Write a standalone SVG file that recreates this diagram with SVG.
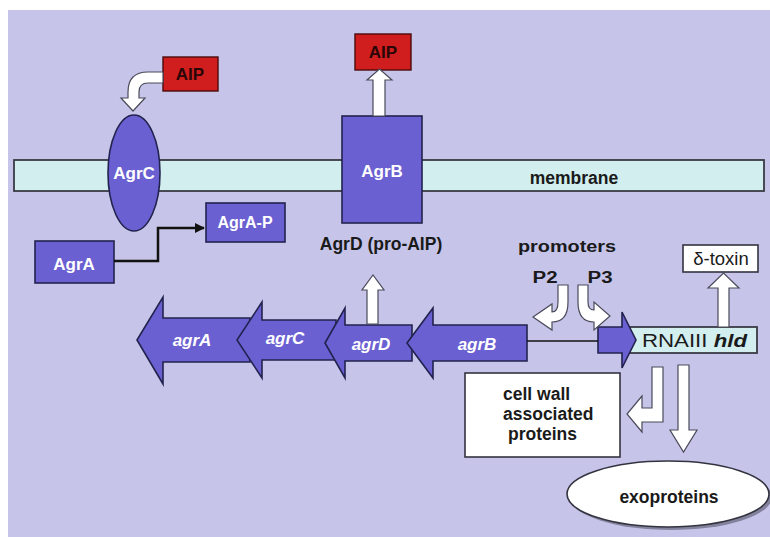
<svg xmlns="http://www.w3.org/2000/svg" width="770" height="537" viewBox="0 0 770 537">
<defs>
<style>
text{font-family:"Liberation Sans",Arial,sans-serif;}
.w{fill:#ffffff;font-weight:bold;}
.d{fill:#1a1a1a;font-weight:bold;}
.gi{fill:#ffffff;font-weight:bold;font-style:italic;font-size:17px;}
.prot{fill:#6a60d2;stroke:#22224e;stroke-width:1.6;}
.aip{fill:#d01e1e;stroke:#4a0a0a;stroke-width:1.4;}
.wa{fill:#ffffff;stroke:#4a4a5a;stroke-width:1.2;stroke-linejoin:miter;}
.box{fill:#ffffff;stroke:#333340;stroke-width:1.6;}
.cyan{fill:#d2eeee;stroke:#3a3a44;stroke-width:1.8;}
</style>
<marker id="ah" viewBox="0 0 10 10" refX="9" refY="5" markerWidth="4" markerHeight="4" orient="auto" markerUnits="strokeWidth">
<path d="M0,0 L10,5 L0,10 Z" fill="#111111"/>
</marker>
</defs>
<rect x="8" y="10" width="762" height="527" fill="#c6c5e9"/>

<g id="membrane">
<rect x="14" y="160" width="750" height="31" class="cyan"/>
<text x="574" y="184" text-anchor="middle" class="d" font-size="17.5">membrane</text>
</g>

<g id="agrC-protein">
<ellipse cx="134" cy="173" rx="26" ry="58" class="prot"/>
<text x="134" y="179" text-anchor="middle" class="w" font-size="17">AgrC</text>
</g>

<g id="agrB-protein">
<rect x="342" y="116" width="80" height="107" class="prot"/>
<text x="382" y="177" text-anchor="middle" class="w" font-size="17">AgrB</text>
</g>

<g id="aip-left">
<rect x="163" y="57" width="55" height="34" class="aip"/>
<text x="190" y="80" text-anchor="middle" fill="#2a0606" font-weight="bold" font-size="17">AIP</text>
</g>

<g id="aip-top">
<rect x="355" y="34" width="56" height="36" class="aip"/>
<text x="383" y="58" text-anchor="middle" fill="#2a0606" font-weight="bold" font-size="17">AIP</text>
</g>

<g id="agrA-P">
<rect x="206" y="203" width="79" height="39" class="prot"/>
<text x="245" y="228" text-anchor="middle" class="w" font-size="16">AgrA-P</text>
</g>

<g id="agrA-protein">
<rect x="35" y="241" width="79" height="42" class="prot"/>
<text x="74" y="270" text-anchor="middle" class="w" font-size="17">AgrA</text>
</g>

<g id="agrD-label">
<text x="381" y="250" text-anchor="middle" class="d" font-size="17.5" fill="#222">AgrD (pro-AIP)</text>
</g>

<g id="gene-agrA">
<polygon points="137,340 163,297 163,318 250,318 250,362 163,362 163,384" class="prot"/>
<text x="192" y="346" text-anchor="middle" class="gi">agrA</text>
</g>
<g id="gene-agrC">
<polygon points="237,340 262,302 262,320 336,320 336,360 262,360 262,378" class="prot"/>
<text x="285" y="344" text-anchor="middle" class="gi">agrC</text>
</g>
<g id="gene-agrD">
<polygon points="325,343 345,308 345,325 412,325 412,361 345,361 345,378" class="prot"/>
<text x="371" y="350" text-anchor="middle" class="gi">agrD</text>
</g>
<g id="gene-agrB">
<polygon points="407,343 433,308 433,325 527,325 527,361 433,361 433,378" class="prot"/>
<text x="477" y="350" text-anchor="middle" class="gi">agrB</text>
</g>

<g id="promoters-label">
<text x="567" y="252" text-anchor="middle" class="d" font-size="16" textLength="98" lengthAdjust="spacingAndGlyphs">promoters</text>
<text x="545" y="283" text-anchor="middle" class="d" font-size="16" textLength="25" lengthAdjust="spacingAndGlyphs">P2</text>
<text x="600" y="283" text-anchor="middle" class="d" font-size="16" textLength="25" lengthAdjust="spacingAndGlyphs">P3</text>
</g>

<g id="rnaiii">
<rect x="622" y="327" width="135" height="26" class="cyan"/>
<text x="642" y="347" fill="#1a1a1a" font-size="18" textLength="105" lengthAdjust="spacingAndGlyphs">RNAIII <tspan font-weight="bold" font-style="italic">hld</tspan></text>
</g>

<g id="p3-promoter">
<polygon points="598,327 622,327 622,312 636,340 622,368 622,353 598,353" class="prot"/>
</g>

<g id="delta-toxin">
<rect x="683" y="245" width="75" height="27" class="box"/>
<text x="721" y="265" text-anchor="middle" fill="#1a1a1a" font-size="18.5">δ-toxin</text>
</g>

<g id="cell-wall">
<rect x="465" y="373" width="155" height="84" class="box"/>
<text x="503" y="400" class="d" font-size="17.5">cell wall</text>
<text x="503" y="420" class="d" font-size="17.5">associated</text>
<text x="508" y="440" class="d" font-size="17.5">proteins</text>
</g>

<g id="exoproteins">
<ellipse cx="671" cy="497" rx="101" ry="33" fill="#55556a" opacity="0.6"/>
<ellipse cx="668" cy="494" rx="101" ry="33" class="box"/>
<text x="669" y="503" text-anchor="middle" class="d" font-size="17.5">exoproteins</text>
</g>

<g id="connectors">
<path d="M163,72 L148,72 Q128,72 128,92 L128,98 L121,98 L133,111 L145,98 L139,98 L139,92 Q139,83 148,83 L163,83 Z" class="wa"/>
<polygon points="373,116 373,80 367,80 379.5,69 392,80 385,80 385,116" class="wa"/>
<polyline points="114,261 158,261 158,228 204,228" fill="none" stroke="#111111" stroke-width="2.5" marker-end="url(#ah)"/>
<polygon points="367,324 367,290 362,290 373,275 384,290 378,290 378,324" class="wa"/>
<line x1="527" y1="341" x2="598" y2="341" stroke="#111111" stroke-width="1.3"/>
<path d="M558,285 L568,285 L568,302 Q568,322 552,322 L552,330 L533,317 L552,304 L552,312 Q558,312 558,302 Z" class="wa"/>
<path d="M578,285 L588,285 L588,302 Q588,310 594,310 L594,302 L610,316 L594,330 L594,322 Q578,322 578,302 Z" class="wa"/>
<polygon points="718,327 718,288 708,288 723.5,273 739,288 729,288 729,327" class="wa"/>
<polygon points="652,367 663,367 663,422 642,422 642,432 627,414 642,396 642,408 652,408" class="wa"/>
<polygon points="678,365 689,365 689,430 697,430 683.5,452 670,430 678,430" class="wa"/>
</g>
</svg>
